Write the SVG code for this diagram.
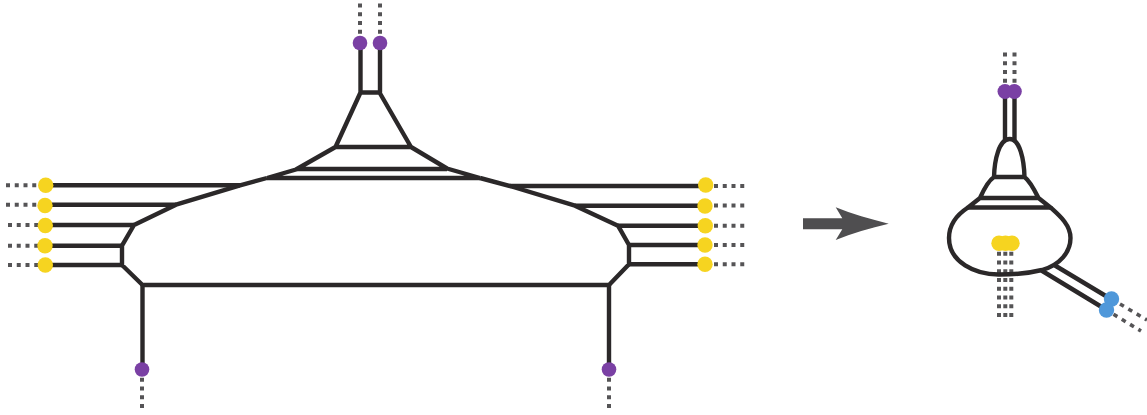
<svg xmlns="http://www.w3.org/2000/svg" width="1147" height="415" viewBox="0 0 1147 415">
<style>
.l{fill:none;stroke:#2b2829;stroke-width:4.4;stroke-linejoin:round}
.d{fill:none;stroke:#555456;stroke-width:4;stroke-dasharray:4 4.75}
.x{fill:none;stroke:#555456;stroke-width:3.6;stroke-dasharray:4.500 5.200}
.y{fill:#f6d420}
.p{fill:#7a40a4}
.b{fill:#4f98da}
</style>
<rect width="1147" height="415" fill="#fff"/>
<g id="connectors">
<g id="left-dotted">
<path class="d" d="M6 185.300H40M6 204.700H40M8 225H40M8 245.700H40M8 265H40M714 186H745M714 205.500H745M714 225.700H745M714 245H745M714 264.300H745M360 3.500V36M380 3.500V36M142 377.700V408M609 377.700V408"/>
</g>
<g id="left-lines">
<path class="l" d="M360.500 43V92.500M380 43V92.500M360.500 92.500H379.500L411 147H335.500ZM335.500 147L296 169.500L267 178M411 147L447 168.500L480 178M296 169H447M267 178H480M46 185.300H240M46 204.700H176M46 225H134M46 245.700H122M46 265H122M705 186H510M705 205.700H575M705 225.700H618M705 245H629M705 264.300H629"/>
<path class="l" d="M267 178L240 185.300L176 204.700L134 225L122 245.700V265L142.500 285H609L629 264.300V245L618 225.700L575 205.700L510 186L480 178"/>
<path class="l" d="M142.500 285V369M609 285V369"/>
</g>
<g id="right-dotted">
<path class="d" d="M1005 52.500V84M1014.500 52.500V84M999 251.700V320M1005.300 251.700V320M1011.300 251.700V320"/>
<path class="x" d="M1120 304L1147 320M1113.500 314.300L1141 331"/>
</g>
<g id="right-lines">
<path class="l" d="M1005 91V142M1014.500 91V142M1055 265.500L1110 298.500M1041.500 270.500L1105 309"/>
<path class="l" d="M994 177C994.500 160 999 139 1009.700 139C1020 139 1024 160 1024.500 177ZM994 177C988 181 984 189 980 198H1038.500C1034 189 1030 181 1024.500 177M980 198L968 207.500H1050.500L1038.500 198"/>
<path class="l" d="M968 207.500C958 214 949 224 949 238C949 262 975 275 1000 274.500C1015 274.500 1030 273 1042 270C1060 265 1070.500 252 1070.500 238C1070.500 225 1060 216 1050.500 207.500"/>
</g>
</g>
<g id="arrow"><path fill="#4f4e50" d="M803 218.300H842.300L835.700 207.300C852 214 870 219 888.700 223.700C870 228 852 233 835.700 240L842.300 229.200H803Z"/></g>
<g id="node-left-1"><circle class="y" cx="45.700" cy="185.300" r="7.700"/></g>
<g id="node-left-2"><circle class="y" cx="45" cy="205.500" r="7.700"/></g>
<g id="node-left-3"><circle class="y" cx="45.300" cy="225.500" r="7.700"/></g>
<g id="node-left-4"><circle class="y" cx="45" cy="245.700" r="7.700"/></g>
<g id="node-left-5"><circle class="y" cx="45.300" cy="265" r="7.700"/></g>
<g id="node-right-1"><circle class="y" cx="705.700" cy="185" r="7.700"/></g>
<g id="node-right-2"><circle class="y" cx="705" cy="206" r="7.700"/></g>
<g id="node-right-3"><circle class="y" cx="705.300" cy="225.700" r="7.700"/></g>
<g id="node-right-4"><circle class="y" cx="705" cy="245" r="7.700"/></g>
<g id="node-right-5"><circle class="y" cx="705" cy="264.300" r="7.700"/></g>
<g id="node-top-1"><circle class="p" cx="360" cy="43" r="7.300"/></g>
<g id="node-top-2"><circle class="p" cx="380" cy="43" r="7.300"/></g>
<g id="node-bottom-1"><circle class="p" cx="142" cy="369.500" r="7.300"/></g>
<g id="node-bottom-2"><circle class="p" cx="609" cy="369.500" r="7.300"/></g>
<g id="node-r-top-1"><circle class="p" cx="1005" cy="91.500" r="7.500"/></g>
<g id="node-r-top-2"><circle class="p" cx="1014.300" cy="91.500" r="7.500"/></g>
<g id="node-r-mid-1"><circle class="y" cx="999" cy="243.300" r="7.700"/></g>
<g id="node-r-mid-2"><circle class="y" cx="1005.500" cy="243.300" r="7.700"/></g>
<g id="node-r-mid-3"><circle class="y" cx="1012" cy="243.300" r="7.700"/></g>
<g id="node-r-blue-1"><circle class="b" cx="1111.500" cy="299" r="7.700"/></g>
<g id="node-r-blue-2"><circle class="b" cx="1106.500" cy="310" r="7.700"/></g>
</svg>
